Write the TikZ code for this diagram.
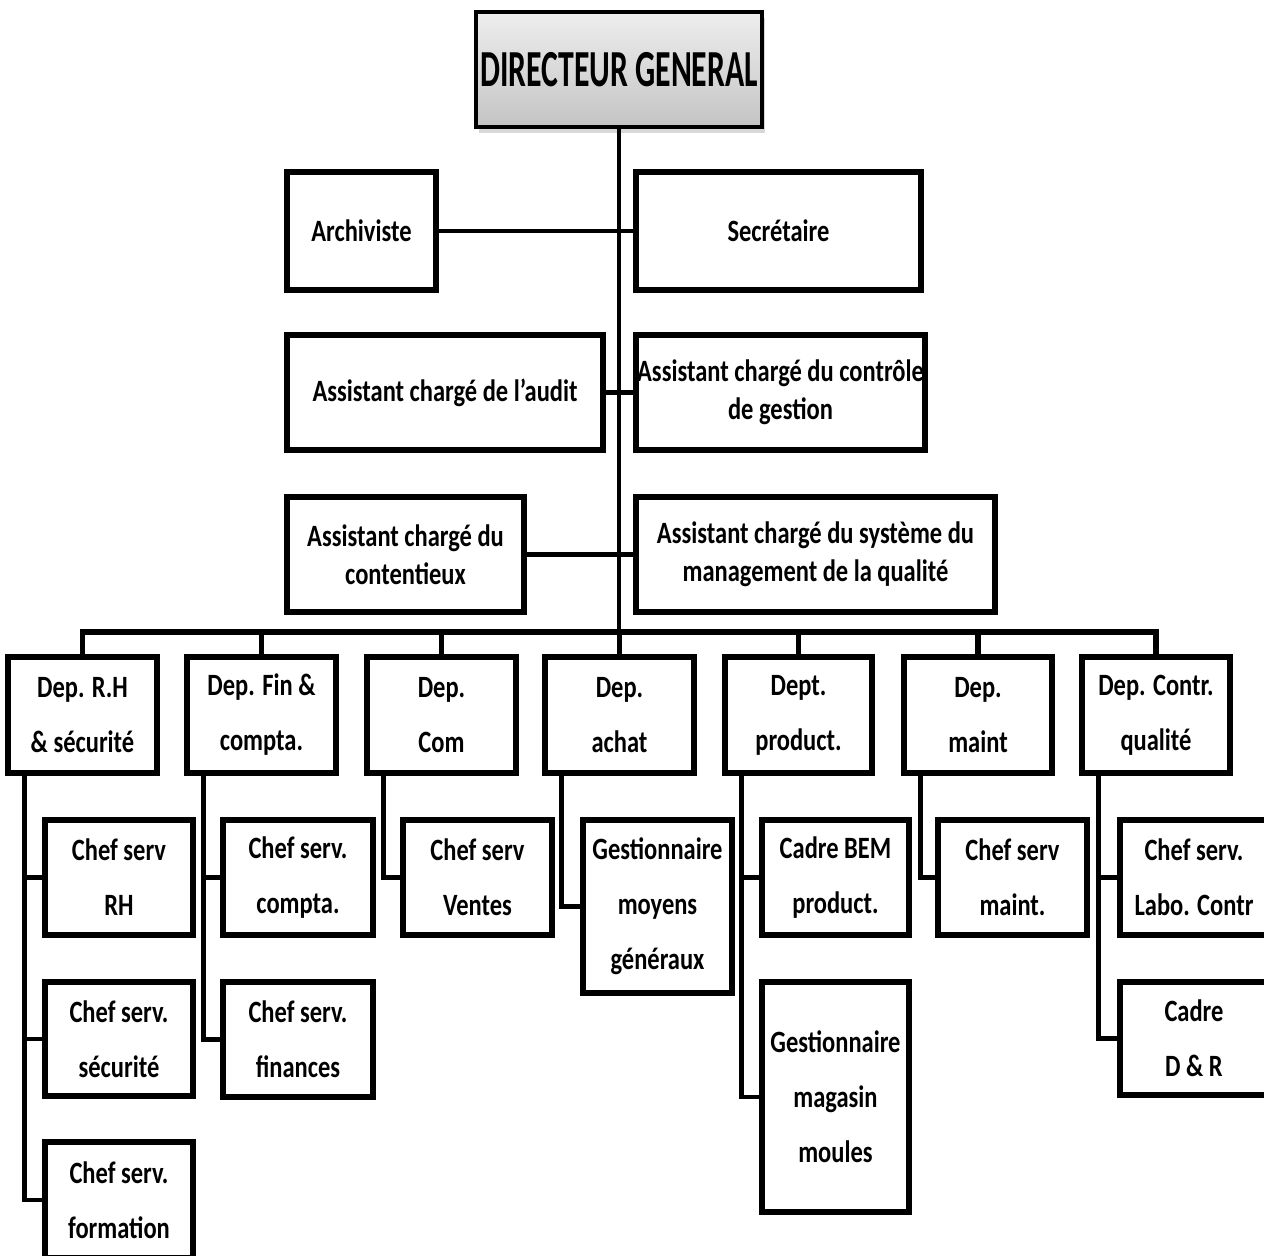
\documentclass[tikz,border=0pt]{standalone}
\usepackage{fontspec}
\newfontfamily\boxfont{Carlito}[UprightFont={* Bold}, FakeStretch=0.79]
\newfontfamily\headfont{Carlito}[UprightFont={* Bold}, FakeStretch=0.61]
\usetikzlibrary{shadows}
\definecolor{headtop}{RGB}{238,238,238}
\definecolor{headbot}{RGB}{196,196,196}
\tikzset{
  % place a rectangle by its corners (x1/y1/x2/y2, picture units)
  corners/.style args={#1/#2/#3/#4}{at={({(#1+#3)/2},{(#2+#4)/2})},
    minimum width={(#3-#1)*0.5pt}, minimum height={(#4-#2)*0.5pt}},
  orgbox/.style={draw=black, line width=2.8pt, fill=white, inner sep=0pt,
    align=center, font=\boxfont\fontsize{15.5}{27.5}\selectfont},
  staffbox/.style={orgbox, font=\boxfont\fontsize{15.5}{19}\selectfont},
  headbox/.style={draw=black, line width=1.6pt, top color=headtop, bottom color=headbot,
    drop shadow={shadow xshift=1.5pt, shadow yshift=-3pt, opacity=0.3},
    inner sep=0pt, align=center, font=\headfont\fontsize{26}{30}\selectfont},
  link/.style={line width=2.3pt, line join=miter, line cap=rect},
  buslink/.style={line width=2.6pt, line join=miter, line cap=rect},
}
\begin{document}
\begin{tikzpicture}[x=0.5pt, y=-0.5pt]
\fill[white] (0,0) rectangle (1264,1255);
\useasboundingbox (0,0) rectangle (1264,1255);

% general management
\node[headbox, corners=476/12/762/127] (dg) {DIRECTEUR GENERAL};

% staff attached to the general manager
\node[staffbox, corners=287/172/436/290] (arch) {Archiviste};
\node[staffbox, corners=636/172/921/290] (sec) {Secrétaire};
\node[staffbox, corners=287/335/603/450] (audit) {Assistant chargé de l’audit};
\node[staffbox, corners=636/335/925/450] (ctrl) {Assistant chargé du contrôle\\de gestion};
\node[staffbox, corners=287/497/524/612] (cont) {Assistant chargé du\\contentieux};
\node[staffbox, corners=636/497/995/612] (smq) {Assistant chargé du système du\\management de la qualité};

% departments
\node[orgbox, corners=8/657/157/773] (d1) {Dep. R.H\\\& sécurité};
\node[orgbox, corners=187/657/336/773] (d2) {Dep. Fin \&\\compta.};
\node[orgbox, corners=367/657/516/773] (d3) {Dep.\\Com};
\node[orgbox, corners=545/657/694/773] (d4) {Dep.\\achat};
\node[orgbox, corners=725/657/872/773] (d5) {Dept.\\product.};
\node[orgbox, corners=904/657/1052/773] (d6) {Dep.\\maint};
\node[orgbox, corners=1082/657/1230/773] (d7) {Dep. Contr.\\qualité};

% services
\node[orgbox, corners=45/820/193/935] (c11) {Chef serv\\RH};
\node[orgbox, corners=45/982/193/1096] (c12) {Chef serv.\\sécurité};
\node[orgbox, corners=45/1142/193/1258] (c13) {Chef serv.\\formation};
\node[orgbox, corners=223/820/373/935] (c21) {Chef serv.\\compta.};
\node[orgbox, corners=223/982/373/1097] (c22) {Chef serv.\\finances};
\node[orgbox, corners=403/820/552/935] (c31) {Chef serv\\Ventes};
\node[orgbox, corners=583/820/732/993] (c41) {Gestionnaire\\moyens\\généraux};
\node[orgbox, corners=762/820/909/935] (c51) {Cadre BEM\\product.};
\node[orgbox, corners=762/982/909/1212] (c52) {Gestionnaire\\magasin\\moules};
\node[orgbox, corners=938/820/1087/935] (c61) {Chef serv\\maint.};
\node[orgbox, corners=1120/820/1268/935] (c71) {Chef serv.\\Labo. Contr};
\node[orgbox, corners=1120/982/1268/1095] (c72) {Cadre\\D \& R};

% trunk and department bus
\coordinate (bus) at (619,632);
\draw[link] (dg.south) -- (bus);
\draw[link] (arch.east) -- (sec.west);
\draw[link] (audit.east) -- (ctrl.west);
\draw[link] (cont.east) -- (smq.west);
\foreach \d in {d1,d2,d3,d4,d5,d6,d7}
  \draw[buslink] (bus) -| (\d.north);

% department to service links
\foreach \d/\c in {d1/c11,d1/c12,d1/c13,d2/c21,d2/c22,d3/c31,d4/c41,d5/c51,d5/c52,d6/c61,d7/c71,d7/c72}
  \draw[link] ([xshift=9.5pt]\d.south west) |- (\c.west);
\end{tikzpicture}
\end{document}
